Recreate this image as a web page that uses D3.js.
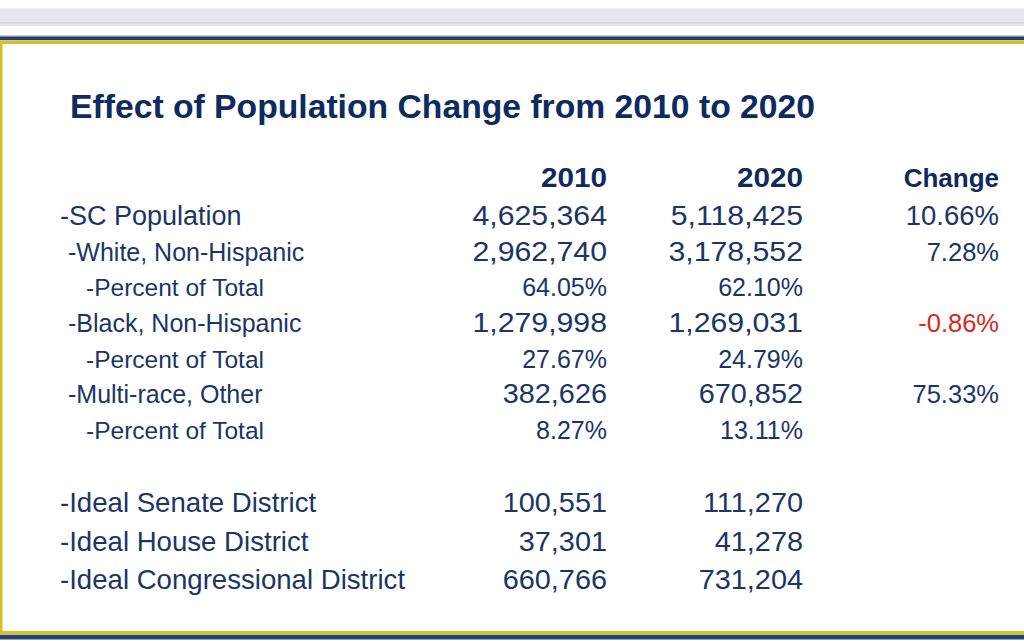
<!DOCTYPE html>
<html>
<head>
<meta charset="utf-8">
<script src="https://cdn.jsdelivr.net/npm/d3@7"></script>
<style>
  html, body { margin: 0; padding: 0; background: #ffffff; }
  svg { display: block; }
  text { font-family: "Liberation Sans", Arial, sans-serif; }
</style>
</head>
<body>
<svg id="chart" width="1024" height="641"></svg>
<script>
// ---- Data ----
const title = "Effect of Population Change from 2010 to 2020";
const columns = ["2010", "2020", "Change"];

const upperLabels = ["-SC Population", "-White, Non-Hispanic", "-Percent of Total",
  "-Black, Non-Hispanic", "-Percent of Total", "-Multi-race, Other", "-Percent of Total"];
const upperIndent = [0, 1, 2, 1, 2, 1, 2];
const upper2010 = ["4,625,364", "2,962,740", "64.05%", "1,279,998", "27.67%", "382,626", "8.27%"];
const upper2020 = ["5,118,425", "3,178,552", "62.10%", "1,269,031", "24.79%", "670,852", "13.11%"];
const upperChange = [10.66, 7.28, null, -0.86, null, 75.33, null];

const lowerLabels = ["-Ideal Senate District", "-Ideal House District", "-Ideal Congressional District"];
const lower2010 = ["100,551", "37,301", "660,766"];
const lower2020 = ["111,270", "41,278", "731,204"];

// ---- Drawing ----
const svg = d3.select("#chart");
const W = 1024, H = 641;
const navy = "#1c3566", titleCol = "#0f2a5e", red = "#d42a22";
const yellow = "#d6c21a", band = "#24406e";

// frame decoration
svg.append("rect").attr("x", 0).attr("y", 8).attr("width", W).attr("height", 18).attr("fill", "#e6e6eb");
svg.append("rect").attr("x", 0).attr("y", 8).attr("width", W).attr("height", 1.5).attr("fill", "#efeff2");
svg.append("rect").attr("x", 0).attr("y", 22).attr("width", W).attr("height", 2).attr("fill", "#d8d8de");
svg.append("rect").attr("x", 0).attr("y", 35.5).attr("width", W).attr("height", 1).attr("fill", "#9aa6bf");
svg.append("rect").attr("x", 0).attr("y", 36.5).attr("width", W).attr("height", 3.5).attr("fill", band);
svg.append("rect").attr("x", 0).attr("y", 40).attr("width", W).attr("height", 1).attr("fill", "#c8c8b0");
svg.append("rect").attr("x", 0).attr("y", 41).attr("width", W).attr("height", 3).attr("fill", yellow);
svg.append("rect").attr("x", 0).attr("y", 41).attr("width", 2.5).attr("height", 593).attr("fill", yellow);
svg.append("rect").attr("x", 0).attr("y", 631).attr("width", W).attr("height", 3).attr("fill", yellow);
svg.append("rect").attr("x", 0).attr("y", 634).attr("width", W).attr("height", 1).attr("fill", "#b8b8a8");
svg.append("rect").attr("x", 0).attr("y", 635).attr("width", W).attr("height", 4).attr("fill", band);
svg.append("rect").attr("x", 0).attr("y", 639).attr("width", W).attr("height", 1).attr("fill", "#9aa6bf");

// title
svg.append("text").attr("x", 70).attr("y", 118)
  .attr("font-size", 33.7).attr("font-weight", "bold").attr("fill", titleCol)
  .text(title);

// scales
const xCol = d3.scalePoint().domain(columns).range([607, 999]);
const yUpper = d3.scaleLinear().domain([0, upperLabels.length - 1]).range([225, 439]);
const yLower = d3.scaleLinear().domain([0, lowerLabels.length - 1]).range([512, 589]);
const xIndent = d3.scaleOrdinal().domain([0, 1, 2]).range([60, 68, 86]);
const fontSize = d3.scaleOrdinal().domain([0, 1, 2]).range([27, 25, 24.5]);
// wider figures (the original face has broad digits and commas)
const commaCount = s => (s.match(/,/g) || []).length;
const numStretch = s => 1 + 0.05 * commaCount(s);
const numSize = (s, indent) => commaCount(s) ? 27.5 : fontSize(indent) + 0.5;

// header
svg.append("g").selectAll("text").data(columns).join("text")
  .attr("transform", d => `translate(${xCol(d)},187) scale(${/^\d+$/.test(d) ? 1.1 : 1},1)`)
  .attr("text-anchor", "end").attr("font-size", d => /^\d+$/.test(d) ? 27 : 26).attr("font-weight", "bold")
  .attr("fill", titleCol).text(d => d);

// upper rows
const upperRows = upperLabels.map((l, i) => ({
  label: l, indent: upperIndent[i], v2010: upper2010[i], v2020: upper2020[i], change: upperChange[i], i
}));
const ug = svg.append("g").selectAll("g").data(upperRows).join("g")
  .attr("transform", d => `translate(0,${yUpper(d.i)})`);
ug.append("text").attr("x", d => xIndent(d.indent)).attr("y", 0)
  .attr("font-size", d => fontSize(d.indent)).attr("fill", navy).text(d => d.label);
ug.append("text")
  .attr("transform", d => `translate(${xCol("2010")},0) scale(${numStretch(d.v2010)},1)`)
  .attr("text-anchor", "end")
  .attr("font-size", d => numSize(d.v2010, d.indent)).attr("fill", navy).text(d => d.v2010);
ug.append("text")
  .attr("transform", d => `translate(${xCol("2020")},0) scale(${numStretch(d.v2020)},1)`)
  .attr("text-anchor", "end")
  .attr("font-size", d => numSize(d.v2020, d.indent)).attr("fill", navy).text(d => d.v2020);
ug.filter(d => d.change !== null).append("text").attr("x", xCol("Change")).attr("text-anchor", "end")
  .attr("font-size", d => fontSize(d.indent) + 0.5)
  .attr("fill", d => d.change < 0 ? red : navy)
  .text(d => d.change.toFixed(2) + "%");

// lower rows
const lowerRows = lowerLabels.map((l, i) => ({ label: l, v2010: lower2010[i], v2020: lower2020[i], i }));
const lg = svg.append("g").selectAll("g").data(lowerRows).join("g")
  .attr("transform", d => `translate(0,${yLower(d.i)})`);
lg.append("text").attr("x", xIndent(0)).attr("font-size", 27.6).attr("fill", navy).text(d => d.label);
lg.append("text")
  .attr("transform", d => `translate(${xCol("2010")},0) scale(${numStretch(d.v2010)},1)`)
  .attr("text-anchor", "end").attr("font-size", 27.5).attr("fill", navy).text(d => d.v2010);
lg.append("text")
  .attr("transform", d => `translate(${xCol("2020")},0) scale(${numStretch(d.v2020)},1)`)
  .attr("text-anchor", "end").attr("font-size", 27.5).attr("fill", navy).text(d => d.v2020);
</script>
</body>
</html>
